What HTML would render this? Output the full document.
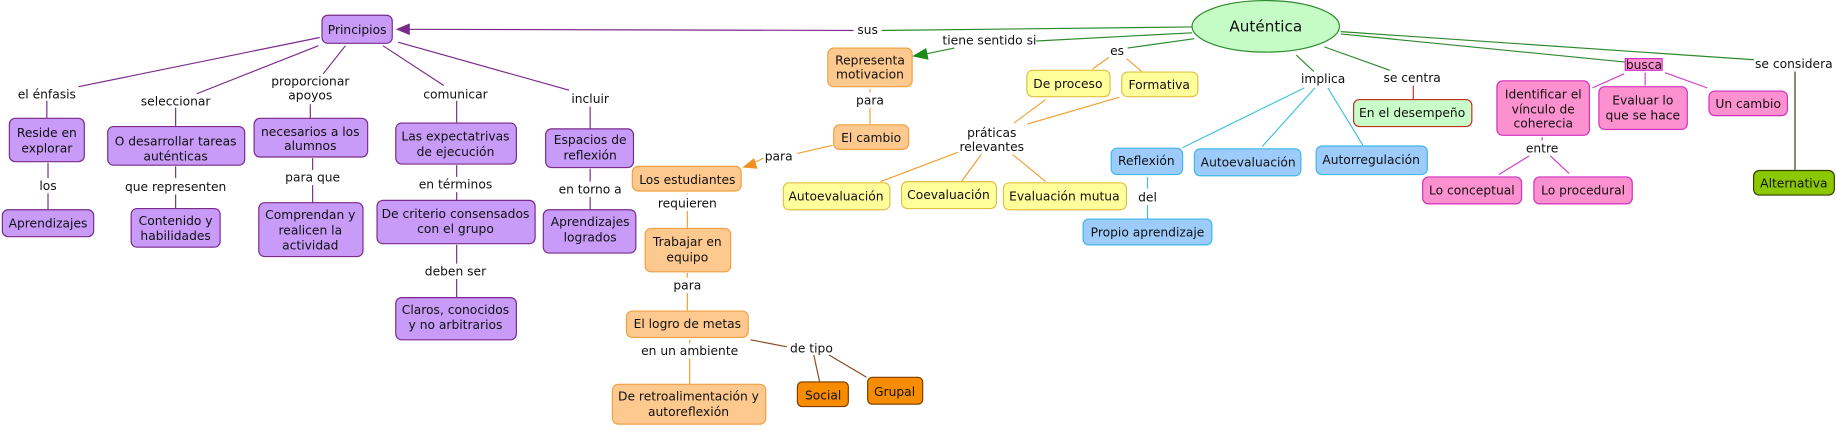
<!DOCTYPE html>
<html><head><meta charset="utf-8"><style>html,body{margin:0;padding:0;background:#fff}svg{display:block}text{font-family:"DejaVu Sans","Liberation Sans",sans-serif;font-size:10.5px;fill:#111;text-anchor:middle}</style></head><body>
<svg width="1836" height="430" viewBox="0 0 1568 367" preserveAspectRatio="none" xmlns="http://www.w3.org/2000/svg">
<g fill="none" stroke-width="1">
<!-- purple lines -->
<g stroke="#7a2a8a">
<line x1="345" y1="25" x2="729" y2="26"/>
<line x1="273" y1="32" x2="67" y2="74"/><line x1="40" y1="86" x2="40" y2="101"/><line x1="41" y1="139" x2="41" y2="152"/><line x1="41" y1="165" x2="41" y2="179"/>
<line x1="272" y1="39" x2="168" y2="80"/><line x1="150" y1="92" x2="150" y2="108"/><line x1="150" y1="142" x2="150" y2="152"/><line x1="150" y1="166" x2="150" y2="178"/>
<line x1="295" y1="39" x2="276" y2="63"/><line x1="265" y1="89" x2="265" y2="101"/><line x1="267" y1="135" x2="267" y2="145"/><line x1="267" y1="158" x2="267" y2="173"/>
<line x1="327" y1="39" x2="379" y2="73"/><line x1="390" y1="86" x2="390" y2="105"/><line x1="390" y1="141" x2="390" y2="151"/><line x1="390" y1="164" x2="390" y2="171"/><line x1="390" y1="209" x2="390" y2="225"/><line x1="390" y1="238" x2="390" y2="254"/>
<line x1="340" y1="36" x2="486" y2="77"/><line x1="504" y1="91" x2="504" y2="110"/><line x1="504" y1="144" x2="504" y2="155"/><line x1="504" y1="168" x2="504" y2="179"/>
</g>
<!-- green lines -->
<g stroke="#2e8a2e">
<line x1="753" y1="26" x2="1018" y2="23"/>
<line x1="885" y1="35" x2="1018" y2="28"/><line x1="815" y1="41" x2="786" y2="47"/>
<line x1="963" y1="41" x2="1020" y2="33"/>
<line x1="1107" y1="47" x2="1122" y2="61"/><line x1="1131" y1="40" x2="1187" y2="60"/>
<line x1="1145" y1="29" x2="1388" y2="53"/><line x1="1145" y1="27" x2="1498" y2="51"/>
</g>
<line x1="1533" y1="61" x2="1533" y2="145" stroke="#234a10"/>
<!-- orange lines -->
<g stroke="#f0a030">
<line x1="743" y1="76" x2="743" y2="79"/><line x1="743" y1="92" x2="743" y2="106"/>
<line x1="711" y1="124" x2="681" y2="131"/><line x1="652" y1="135" x2="640" y2="141"/>
<line x1="587" y1="165" x2="587" y2="166"/><line x1="587" y1="180" x2="587" y2="195"/>
<line x1="587" y1="233" x2="587" y2="237"/><line x1="587" y1="250" x2="587" y2="265"/>
<line x1="589" y1="290" x2="589" y2="293"/><line x1="589" y1="306" x2="589" y2="328"/>
<line x1="947" y1="49" x2="933" y2="59"/><line x1="962" y1="50" x2="975" y2="61"/>
<line x1="893" y1="85" x2="866" y2="105"/><line x1="956" y1="83" x2="877" y2="106"/>
<line x1="818" y1="130" x2="752" y2="155"/><line x1="838" y1="132" x2="821" y2="155"/><line x1="865" y1="132" x2="893" y2="155"/>
</g>
<g stroke="#8a4a20">
<line x1="641" y1="290" x2="672" y2="296"/><line x1="695" y1="303" x2="700" y2="326"/><line x1="708" y1="303" x2="740" y2="322"/>
</g>
<!-- cyan -->
<g stroke="#40c0e0">
<line x1="1114" y1="75" x2="1010" y2="126"/><line x1="1123" y1="75" x2="1078" y2="125"/><line x1="1134" y1="75" x2="1164" y2="124"/>
<line x1="980" y1="151" x2="980" y2="161"/><line x1="980" y1="175" x2="980" y2="187"/>
</g>
<line x1="1207" y1="73" x2="1207" y2="85" stroke="#c03020"/>
<g stroke="#d040c8">
<line x1="1387" y1="63" x2="1360" y2="75"/><line x1="1405" y1="62" x2="1405" y2="73"/><line x1="1422" y1="62" x2="1458" y2="75"/>
<line x1="1317" y1="117" x2="1317" y2="120"/><line x1="1306" y1="133" x2="1280" y2="149"/><line x1="1324" y1="133" x2="1340" y2="148"/>
</g>
</g>
<!-- arrowheads -->
<polygon points="338,25 350,20 350,30" fill="#7a2a8a"/>
<polygon points="779,48 791,41 793,51" fill="#1a8a1a"/>
<polygon points="634,143 644,135 647,144" fill="#f09020"/>
<!-- label backgrounds not needed -->
<!-- nodes -->
<g stroke-width="1">
<ellipse cx="1081" cy="22.5" rx="63" ry="22" fill="#c5fcc5" stroke="#2e8a2e"/>
<g fill="#c89bf8" stroke="#7a2a8a">
<rect x="275" y="13" width="60" height="24" rx="5"/>
<rect x="8" y="101" width="64" height="37" rx="5"/>
<rect x="2" y="179" width="78" height="23" rx="5"/>
<rect x="92" y="108" width="117" height="33" rx="5"/>
<rect x="112" y="178" width="76" height="33" rx="5"/>
<rect x="217" y="101" width="97" height="33" rx="5"/>
<rect x="221" y="173" width="89" height="46" rx="5"/>
<rect x="338" y="105" width="103" height="35" rx="5"/>
<rect x="322" y="171" width="135" height="37" rx="5"/>
<rect x="338" y="254" width="103" height="36" rx="5"/>
<rect x="466" y="110" width="75" height="33" rx="5"/>
<rect x="464" y="179" width="79" height="37" rx="5"/>
</g>
<g fill="#fec98f" stroke="#f0a040">
<rect x="707" y="41" width="72" height="33" rx="5"/>
<rect x="712" y="106.5" width="64" height="21" rx="5"/>
<rect x="540" y="142" width="93" height="21" rx="5"/>
<rect x="551" y="195" width="73" height="37" rx="5"/>
<rect x="535" y="265.5" width="104" height="22.5" rx="5"/>
<rect x="523" y="328" width="131" height="34" rx="5"/>
</g>
<g fill="#f78c00" stroke="#7a3a00">
<rect x="681" y="326" width="43.5" height="21" rx="4"/>
<rect x="741" y="322" width="47" height="23" rx="4"/>
</g>
<g fill="#ffff9c" stroke="#e0c040">
<rect x="877" y="60" width="71" height="22.5" rx="5"/>
<rect x="958" y="61.5" width="65" height="21" rx="5"/>
<rect x="669" y="156" width="91" height="23" rx="5"/>
<rect x="770" y="155" width="81" height="23" rx="5"/>
<rect x="857" y="156" width="105" height="23" rx="5"/>
</g>
<g fill="#9ccbfc" stroke="#40b8e8">
<rect x="949" y="126.5" width="61" height="22.5" rx="5"/>
<rect x="925" y="187" width="110" height="22" rx="5"/>
<rect x="1020" y="127" width="91" height="23" rx="5"/>
<rect x="1124" y="124.6" width="95" height="24.4" rx="5"/>
</g>
<rect x="1156" y="85" width="101" height="23" rx="5" fill="#c8fcc8" stroke="#c03020"/>
<g fill="#fd90cf" stroke="#d030c0">
<rect x="1388" y="50" width="31.5" height="10" rx="0"/>
<rect x="1278.4" y="69" width="79" height="46.5" rx="5"/>
<rect x="1365.5" y="74" width="75.5" height="36.5" rx="5"/>
<rect x="1459.5" y="77.7" width="67" height="21" rx="5"/>
<rect x="1215" y="151" width="84.5" height="23" rx="5"/>
<rect x="1310" y="151" width="84" height="23" rx="5"/>
</g>
<rect x="1497.6" y="145.5" width="69" height="21" rx="5" fill="#8cc800" stroke="#304000"/>
</g>
<!-- node text -->
<text x="1081" y="27" style="font-size:13px">Auténtica</text>
<text x="305" y="29">Principios</text>
<text x="40" y="117">Reside en</text><text x="40" y="130">explorar</text>
<text x="41" y="194">Aprendizajes</text>
<text x="150" y="124">O desarrollar tareas</text><text x="150" y="137">auténticas</text>
<text x="150" y="192">Contenido y</text><text x="150" y="205">habilidades</text>
<text x="265" y="116">necesarios a los</text><text x="265" y="128">alumnos</text>
<text x="265" y="187">Comprendan y</text><text x="265" y="200">realicen la</text><text x="265" y="213">actividad</text>
<text x="389" y="120">Las expectatrivas</text><text x="389" y="133">de ejecución</text>
<text x="389" y="186">De criterio consensados</text><text x="389" y="199">con el grupo</text>
<text x="389" y="268">Claros, conocidos</text><text x="389" y="281">y no arbitrarios</text>
<text x="504" y="123">Espacios de</text><text x="504" y="136">reflexión</text>
<text x="504" y="193">Aprendizajes</text><text x="504" y="206">logrados</text>
<text x="743" y="55">Representa</text><text x="743" y="67">motivacion</text>
<text x="744" y="121">El cambio</text>
<text x="587" y="157">Los estudiantes</text>
<text x="587" y="210">Trabajar en</text><text x="587" y="223">equipo</text>
<text x="587" y="280">El logro de metas</text>
<text x="588" y="342">De retroalimentación y</text><text x="588" y="355">autoreflexión</text>
<text x="703" y="341">Social</text>
<text x="764" y="338">Grupal</text>
<text x="912" y="75">De proceso</text>
<text x="990" y="76">Formativa</text>
<text x="714" y="171">Autoevaluación</text>
<text x="810" y="170">Coevaluación</text>
<text x="909" y="171">Evaluación mutua</text>
<text x="979" y="141">Reflexión</text>
<text x="980" y="202">Propio aprendizaje</text>
<text x="1066" y="142">Autoevaluación</text>
<text x="1171" y="140">Autorregulación</text>
<text x="1206" y="100">En el desempeño</text>
<text x="1404" y="59">busca</text>
<text x="1318" y="84">Identificar el</text><text x="1318" y="97">vínculo de</text><text x="1318" y="109">coherecia</text>
<text x="1403" y="89">Evaluar lo</text><text x="1403" y="102">que se hace</text>
<text x="1493" y="92">Un cambio</text>
<text x="1257" y="166">Lo conceptual</text>
<text x="1352" y="166">Lo procedural</text>
<text x="1532" y="160">Alternativa</text>
<!-- link labels -->
<text x="40" y="84">el énfasis</text>
<text x="41" y="162">los</text>
<text x="150" y="90">seleccionar</text>
<text x="150" y="163">que representen</text>
<text x="265" y="73">proporcionar</text><text x="265" y="85">apoyos</text>
<text x="267" y="155">para que</text>
<text x="389" y="84">comunicar</text>
<text x="389" y="161">en términos</text>
<text x="389" y="235">deben ser</text>
<text x="504" y="88">incluir</text>
<text x="504" y="165">en torno a</text>
<text x="741" y="29">sus</text>
<text x="845" y="38">tiene sentido si</text>
<text x="743" y="89">para</text>
<text x="665" y="137">para</text>
<text x="587" y="177">requieren</text>
<text x="587" y="247">para</text>
<text x="589" y="303">en un ambiente</text>
<text x="693" y="301">de tipo</text>
<text x="954" y="47">es</text>
<text x="847" y="117">práticas</text><text x="847" y="129">relevantes</text>
<text x="980" y="172">del</text>
<text x="1130" y="71">implica</text>
<text x="1206" y="70">se centra</text>
<text x="1532" y="58">se considera</text>
<text x="1317" y="130">entre</text>
</svg>
</body></html>
